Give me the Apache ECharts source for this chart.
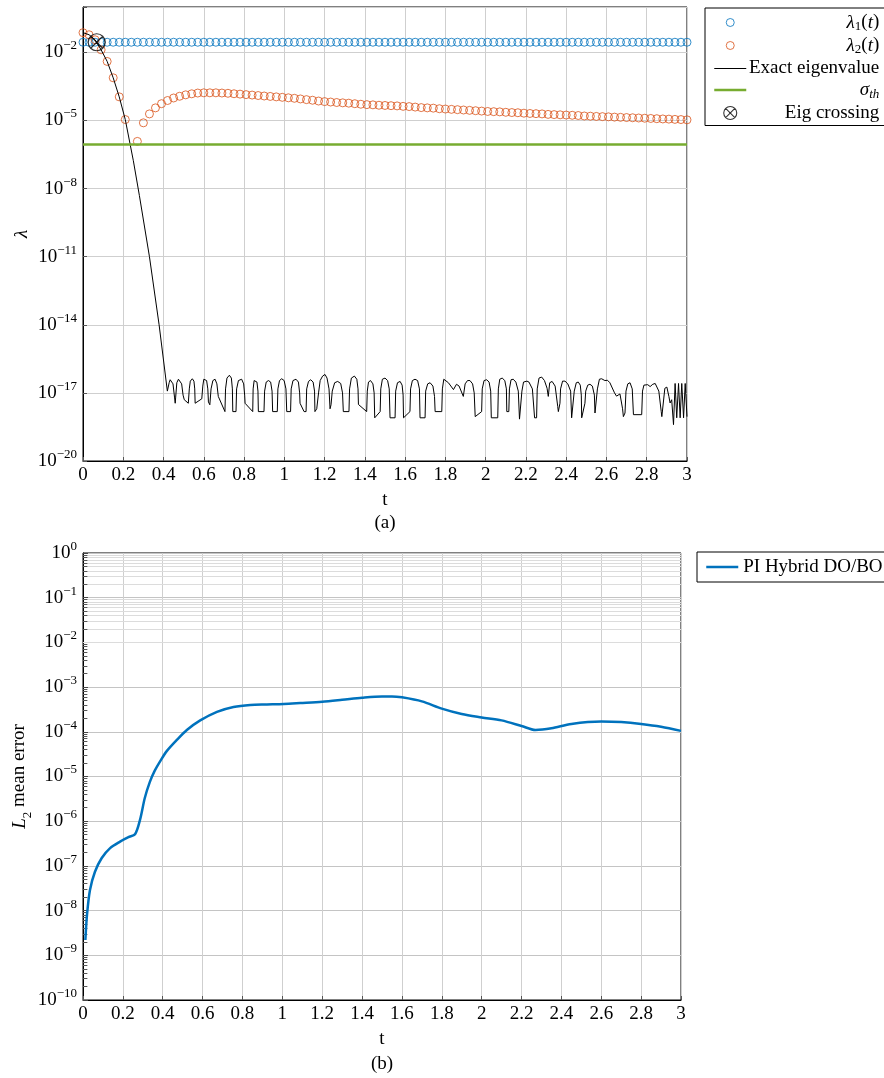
<!DOCTYPE html>
<html>
<head>
<meta charset="utf-8">
<script src="https://cdn.jsdelivr.net/npm/echarts@6/dist/echarts.min.js"></script>
<style>
  html, body { margin: 0; padding: 0; background: #fff; }
  #chart { width: 884px; height: 1078px; }
</style>
</head>
<body>
<div id="chart"></div>
<script>
// ---------- data: panel (a) ----------
const sampleTimes = [
  0, 0.03, 0.06, 0.09, 0.12, 0.15, 0.18, 0.21, 0.24, 0.27,
  0.3, 0.33, 0.36, 0.39, 0.42, 0.45, 0.48, 0.51, 0.54, 0.57,
  0.6, 0.63, 0.66, 0.69, 0.72, 0.75, 0.78, 0.81, 0.84, 0.87,
  0.9, 0.93, 0.96, 0.99, 1.02, 1.05, 1.08, 1.11, 1.14, 1.17,
  1.2, 1.23, 1.26, 1.29, 1.32, 1.35, 1.38, 1.41, 1.44, 1.47,
  1.5, 1.53, 1.56, 1.59, 1.62, 1.65, 1.68, 1.71, 1.74, 1.77,
  1.8, 1.83, 1.86, 1.89, 1.92, 1.95, 1.98, 2.01, 2.04, 2.07,
  2.1, 2.13, 2.16, 2.19, 2.22, 2.25, 2.28, 2.31, 2.34, 2.37,
  2.4, 2.43, 2.46, 2.49, 2.52, 2.55, 2.58, 2.61, 2.64, 2.67,
  2.7, 2.73, 2.76, 2.79, 2.82, 2.85, 2.88, 2.91, 2.94, 2.97,
  3.0
];

const lambda1Values = [
  0.028, 0.028, 0.028, 0.028, 0.028, 0.028, 0.028, 0.028, 0.028, 0.028,
  0.028, 0.028, 0.028, 0.028, 0.028, 0.028, 0.028, 0.028, 0.028, 0.028,
  0.028, 0.028, 0.028, 0.028, 0.028, 0.028, 0.028, 0.028, 0.028, 0.028,
  0.028, 0.028, 0.028, 0.028, 0.028, 0.028, 0.028, 0.028, 0.028, 0.028,
  0.028, 0.028, 0.028, 0.028, 0.028, 0.028, 0.028, 0.028, 0.028, 0.028,
  0.028, 0.028, 0.028, 0.028, 0.028, 0.028, 0.028, 0.028, 0.028, 0.028,
  0.028, 0.028, 0.028, 0.028, 0.028, 0.028, 0.028, 0.028, 0.028, 0.028,
  0.028, 0.028, 0.028, 0.028, 0.028, 0.028, 0.028, 0.028, 0.028, 0.028,
  0.028, 0.028, 0.028, 0.028, 0.028, 0.028, 0.028, 0.028, 0.028, 0.028,
  0.028, 0.028, 0.028, 0.028, 0.028, 0.028, 0.028, 0.028, 0.028, 0.028,
  0.028
];

const lambda2Values = [
  7.4e-2, 6.0e-2, 3.6e-2, 1.3e-2, 4.0e-3, 7.6e-4, 1.1e-4, 1.1e-5, null, 1.2e-6,
  7.9e-6, 1.95e-5, 3.6e-5, 5.5e-5, 7.6e-5, 9.8e-5, 1.17e-4, 1.35e-4, 1.5e-4, 1.62e-4,
  1.66e-4, 1.66e-4, 1.66e-4, 1.62e-4, 1.58e-4, 1.51e-4, 1.45e-4, 1.38e-4, 1.32e-4, 1.26e-4,
  1.2e-4, 1.15e-4, 1.1e-4, 1.05e-4, 1.0e-4, 9.5e-5, 8.9e-5, 8.3e-5, 7.8e-5, 7.2e-5,
  6.8e-5, 6.5e-5, 6.2e-5, 6.0e-5, 5.8e-5, 5.5e-5, 5.2e-5, 5.0e-5, 4.9e-5, 4.7e-5,
  4.6e-5, 4.5e-5, 4.4e-5, 4.2e-5, 4.1e-5, 3.9e-5, 3.7e-5, 3.6e-5, 3.5e-5, 3.3e-5,
  3.2e-5, 3.1e-5, 3.0e-5, 2.9e-5, 2.8e-5, 2.7e-5, 2.6e-5, 2.5e-5, 2.45e-5, 2.4e-5,
  2.3e-5, 2.24e-5, 2.2e-5, 2.1e-5, 2.04e-5, 2.0e-5, 1.95e-5, 1.86e-5, 1.82e-5, 1.78e-5,
  1.74e-5, 1.7e-5, 1.66e-5, 1.58e-5, 1.55e-5, 1.51e-5, 1.48e-5, 1.45e-5, 1.41e-5, 1.38e-5,
  1.35e-5, 1.32e-5, 1.29e-5, 1.26e-5, 1.23e-5, 1.2e-5, 1.17e-5, 1.15e-5, 1.12e-5, 1.1e-5,
  1.07e-5
];

// [t, lambda] samples of the exact eigenvalue
const exactEigenvalue = [
  [0, 7.4e-2], [0.03, 6.0e-2], [0.06, 3.6e-2], [0.09, 1.3e-2], [0.12, 4.0e-3],
  [0.15, 7.6e-4], [0.18, 1.1e-4], [0.21, 1.1e-5], [0.25, 1.7e-7], [0.28, 5e-9],
  [0.33, 1e-11], [0.378, 1e-14], [0.419, 1.2e-17],
  [0.428, 2.8e-17], [0.433, 3.8e-17], [0.440, 3.8e-17], [0.447, 2.5e-17], [0.455, 6e-18],
  [0.458, 3.5e-18], [0.460, 6e-18], [0.466, 2.8e-17], [0.474, 4e-17], [0.482, 4e-17],
  [0.490, 2.5e-17], [0.497, 8e-18], [0.503, 5e-18], [0.523, 3.5e-18], [0.528, 1.5e-17],
  [0.533, 3.3e-17], [0.543, 4.2e-17], [0.551, 3.3e-17], [0.555, 1.5e-17], [0.557, 3.5e-18],
  [0.590, 5.5e-18], [0.595, 2e-17], [0.600, 4e-17], [0.606, 4.5e-17], [0.614, 3.5e-17],
  [0.620, 1.5e-17], [0.623, 4e-18], [0.630, 3e-18], [0.636, 1.5e-17], [0.645, 3.5e-17],
  [0.656, 4e-17], [0.665, 2.5e-17], [0.672, 7e-18], [0.705, 1.5e-18], [0.708, 1.5e-17],
  [0.715, 4.5e-17], [0.727, 6e-17], [0.737, 4.5e-17], [0.742, 1.5e-17], [0.744, 1.5e-18],
  [0.760, 1.5e-18], [0.763, 1.5e-17], [0.772, 3.5e-17], [0.788, 4e-17], [0.798, 2.5e-17],
  [0.803, 8e-18], [0.805, 3.5e-18], [0.843, 1.5e-18], [0.845, 1.5e-17], [0.850, 3.5e-17],
  [0.856, 4e-17], [0.864, 3e-17], [0.869, 1.2e-17], [0.871, 1.5e-18], [0.899, 1.5e-18],
  [0.902, 1.2e-17], [0.910, 3e-17], [0.921, 3.5e-17], [0.932, 3e-17], [0.939, 1.2e-17],
  [0.942, 1.5e-18], [0.965, 1.5e-18], [0.968, 1.5e-17], [0.976, 3.5e-17], [0.987, 4.2e-17],
  [0.999, 3.5e-17], [1.008, 1.5e-17], [1.012, 1.5e-18], [1.031, 1.5e-18], [1.034, 1.5e-17],
  [1.043, 3.5e-17], [1.058, 4e-17], [1.070, 3e-17], [1.076, 1e-17], [1.078, 3.5e-18],
  [1.098, 1.5e-18], [1.108, 1.5e-18], [1.111, 1.5e-17], [1.120, 3.2e-17], [1.131, 3.8e-17],
  [1.143, 3e-17], [1.150, 1.2e-17], [1.152, 1.5e-18], [1.161, 2e-18], [1.170, 1e-17],
  [1.178, 3.5e-17], [1.190, 5.5e-17], [1.202, 6.5e-17], [1.212, 4.5e-17], [1.222, 1.5e-17],
  [1.227, 2e-18], [1.232, 3e-18], [1.238, 1.2e-17], [1.250, 2.8e-17], [1.265, 3.2e-17],
  [1.280, 2.6e-17], [1.289, 1e-17], [1.293, 1.5e-18], [1.321, 1.5e-18], [1.324, 1.5e-17],
  [1.333, 4.5e-17], [1.348, 5.5e-17], [1.360, 4e-17], [1.366, 1.5e-17], [1.368, 3.1e-18],
  [1.409, 1.5e-18], [1.412, 1.2e-17], [1.418, 3e-17], [1.428, 3.5e-17], [1.440, 2.5e-17],
  [1.446, 1e-17], [1.449, 8e-19], [1.476, 1.5e-18], [1.479, 1.5e-17], [1.487, 4e-17],
  [1.500, 4.5e-17], [1.513, 3.5e-17], [1.521, 1.5e-17], [1.525, 8e-19], [1.550, 8e-19],
  [1.553, 1.2e-17], [1.562, 2.8e-17], [1.575, 3.2e-17], [1.585, 2.2e-17], [1.590, 8e-18],
  [1.592, 8e-19], [1.624, 1.5e-18], [1.627, 1.5e-17], [1.636, 3.5e-17], [1.649, 4e-17],
  [1.662, 3.5e-17], [1.671, 1.5e-17], [1.674, 8e-19], [1.699, 8e-19], [1.702, 1.2e-17],
  [1.712, 2.5e-17], [1.724, 2.8e-17], [1.738, 2e-17], [1.746, 7e-18], [1.749, 1.5e-18],
  [1.782, 1.5e-18], [1.785, 1.5e-17], [1.792, 4e-17], [1.800, 4.5e-17], [1.815, 2.8e-17],
  [1.840, 1.4e-17], [1.855, 2.4e-17], [1.868, 2e-17], [1.889, 7e-18], [1.898, 2.5e-17],
  [1.910, 3.5e-17], [1.922, 3.5e-17], [1.935, 2.5e-17], [1.943, 1e-17], [1.948, 9e-19],
  [1.980, 1.5e-18], [1.983, 1.5e-17], [1.992, 3.5e-17], [2.005, 3.8e-17], [2.017, 3e-17],
  [2.025, 1.2e-17], [2.028, 8e-19], [2.060, 8e-19], [2.063, 1.5e-17], [2.070, 4e-17],
  [2.082, 4.5e-17], [2.095, 3.5e-17], [2.103, 1.5e-17], [2.105, 1.5e-18], [2.115, 1.5e-18],
  [2.118, 1.5e-17], [2.126, 3.8e-17], [2.137, 4e-17], [2.150, 3e-17], [2.162, 1.2e-17],
  [2.168, 7e-19], [2.175, 8e-19], [2.180, 1.2e-17], [2.188, 3e-17], [2.195, 3.4e-17],
  [2.205, 3.3e-17], [2.215, 3e-17], [2.232, 1.5e-17], [2.243, 8e-19], [2.253, 8e-19],
  [2.256, 1.5e-17], [2.265, 4.5e-17], [2.278, 5e-17], [2.292, 3.5e-17], [2.305, 1.6e-17],
  [2.311, 7e-18], [2.318, 2.8e-17], [2.330, 3.2e-17], [2.345, 2e-17], [2.358, 2.5e-18],
  [2.361, 1.5e-18], [2.369, 3.5e-18], [2.372, 1.5e-17], [2.382, 3.3e-17], [2.394, 3.3e-17],
  [2.408, 2.5e-17], [2.422, 1.2e-17], [2.427, 8e-19], [2.435, 8e-19], [2.440, 1.2e-17],
  [2.450, 2.8e-17], [2.460, 3e-17], [2.470, 2.2e-17], [2.475, 8e-18], [2.477, 8e-19],
  [2.493, 3.5e-18], [2.497, 1.2e-17], [2.507, 2.2e-17], [2.518, 2.4e-17], [2.530, 2e-17],
  [2.540, 8e-18], [2.543, 1.3e-18], [2.551, 1.5e-18], [2.555, 1.5e-17], [2.565, 4e-17],
  [2.576, 4.2e-17], [2.592, 3.5e-17], [2.605, 3.6e-17], [2.617, 2.8e-17], [2.640, 1e-17],
  [2.650, 7.2e-18], [2.667, 9e-18], [2.680, 2e-18], [2.684, 9e-19], [2.692, 1.3e-18],
  [2.697, 1.2e-17], [2.706, 2.5e-17], [2.717, 2.8e-17], [2.728, 1.5e-17], [2.734, 1.1e-18],
  [2.775, 1.1e-18], [2.779, 1.2e-17], [2.786, 2.2e-17], [2.792, 2.4e-17], [2.805, 2.3e-17],
  [2.817, 1.9e-17], [2.830, 2.4e-17], [2.842, 2.6e-17], [2.860, 1.2e-17], [2.872, 1.5e-18],
  [2.875, 9e-19], [2.883, 9e-19], [2.890, 1.6e-17], [2.900, 1.8e-17], [2.910, 7e-18],
  [2.916, 3.6e-18], [2.924, 5e-18], [2.933, 4e-19], [2.941, 2.6e-17], [2.949, 8e-19],
  [2.958, 2.6e-17], [2.966, 8e-19], [2.974, 2.6e-17], [2.983, 8e-19], [2.991, 2.6e-17],
  [3.0, 9e-19]
];

const sigmaThreshold = 8.7e-7;
const eigCrossing = [0.068, 0.028];

// ---------- data: panel (b) ----------
const errorTimes = [
  0.012, 0.02, 0.035, 0.06, 0.094, 0.136, 0.186, 0.228, 0.261, 0.286,
  0.31, 0.335, 0.36, 0.39, 0.42, 0.471, 0.521, 0.588, 0.672, 0.755,
  0.839, 0.923, 1.007, 1.09, 1.2, 1.3, 1.4, 1.5, 1.55, 1.6,
  1.7, 1.8, 1.9, 2.0, 2.1, 2.2, 2.27, 2.35, 2.45, 2.6,
  2.7, 2.8, 2.9, 3.0
];
const errorValues = [
  2.2e-9, 8e-9, 2.9e-8, 7.4e-8, 1.5e-7, 2.5e-7, 3.5e-7, 4.4e-7, 5.1e-7, 1.07e-6,
  3.3e-6, 7.5e-6, 1.35e-5, 2.3e-5, 3.7e-5, 6.6e-5, 1.1e-4, 1.8e-4, 2.8e-4, 3.6e-4,
  4.0e-4, 4.1e-4, 4.2e-4, 4.4e-4, 4.7e-4, 5.2e-4, 5.8e-4, 6.2e-4, 6.2e-4, 5.9e-4,
  4.8e-4, 3.3e-4, 2.5e-4, 2.1e-4, 1.8e-4, 1.35e-4, 1.1e-4, 1.2e-4, 1.5e-4, 1.7e-4,
  1.65e-4, 1.5e-4, 1.3e-4, 1.05e-4
];

// minor grid of the error axis: 2..9 times each decade
const minorMantissas = [2, 3, 4, 5, 6, 7, 8, 9];
const minorDecades = [-10, -9, -8, -7, -6, -5, -4, -3, -2, -1];

// ---------- styling ----------
const FONT = 'Liberation Serif';
const BLUE = '#0072BD', ORANGE = '#D95319', GREEN = '#77AC30';
const GRID_GRAY = '#cfcfcf';

const pairs = (xs, ys) => xs.map((x, i) => [x, ys[i]]).filter(p => p[1] != null);

function powerLabel(v) {
  const e = Math.round(Math.log10(v));
  return '{b|10}{s|' + (e < 0 ? '\u2212' + (-e) : e) + '}';
}
const powerRich = {
  b: { fontFamily: FONT, fontSize: 19, lineHeight: 26, color: '#000' },
  s: { fontFamily: FONT, fontSize: 13, lineHeight: 13, verticalAlign: 'top', color: '#000' }
};
const tLabel = v => String(Math.round(v * 10) / 10);

function xAxisFor(gridIndex) {
  return {
    type: 'value', gridIndex, min: 0, max: 3, interval: 0.2,
    name: 't', nameLocation: 'middle', nameGap: 30, nameMoveOverlap: false,
    nameTextStyle: { fontFamily: FONT, fontSize: 19, color: '#000' },
    axisLine: { lineStyle: { color: '#000', width: 1 } },
    axisTick: { show: true, inside: true, length: 4, lineStyle: { color: '#555' } },
    axisLabel: { formatter: tLabel, fontFamily: FONT, fontSize: 19, color: '#000', margin: 5 },
    splitLine: { show: true, lineStyle: { color: GRID_GRAY, width: 1 } }
  };
}

const legendNames = {
  'λ1(t)': '{i|λ}{s|1}{r|(}{i|t}{r|)}',
  'λ2(t)': '{i|λ}{s|2}{r|(}{i|t}{r|)}',
  'Exact eigenvalue': '{r|Exact eigenvalue}',
  'σth': '{i|σ}{si|th}',
  'Eig crossing': '{r|Eig crossing}'
};
const rightRich = {
  r: { fontFamily: FONT, fontSize: 19, lineHeight: 22, align: 'right', color: '#000' },
  i: { fontFamily: FONT, fontSize: 19, fontStyle: 'italic', lineHeight: 22, align: 'right', color: '#000' },
  s: { fontFamily: FONT, fontSize: 13, lineHeight: 13, verticalAlign: 'bottom', align: 'right', color: '#000' },
  si: { fontFamily: FONT, fontSize: 13, fontStyle: 'italic', lineHeight: 13, verticalAlign: 'bottom', align: 'right', color: '#000' }
};

const crossSymbol = 'path://M10,0 A10,10 0 1 1 -10,0 A10,10 0 1 1 10,0 Z M-7.07,-7.07 L7.07,7.07 M-7.07,7.07 L7.07,-7.07';
// legend circle: the leading moves widen the icon box so the ring stays small
const legendRing = 'path://M-7,-7 M7,7 M4.3,0 A4.3,4.3 0 1 1 -4.3,0 A4.3,4.3 0 1 1 4.3,0 Z';
const hollow = 'rgba(0,0,0,0)';
const noMarker = { color: hollow, borderColor: hollow, borderWidth: 0 };

const minorLines = [];
minorDecades.forEach(e => minorMantissas.forEach(m => minorLines.push({ yAxis: m * Math.pow(10, e) })));
// short dark minor ticks along the left edge of panel (b)
const minorTickMarks = [];
minorDecades.forEach(e => minorMantissas.forEach(m => {
  const v = m * Math.pow(10, e);
  minorTickMarks.push([{ coord: [0, v] }, { coord: [0.022, v] }]);
}));

const option = {
  animation: false,
  backgroundColor: '#fff',
  grid: [
    { left: 83, top: 7, width: 604, height: 454, show: true, borderColor: '#000', borderWidth: 1, outerBoundsMode: 'none', containLabel: false },
    { left: 83, top: 553, width: 598, height: 447, show: true, borderColor: '#000', borderWidth: 1, outerBoundsMode: 'none', containLabel: false }
  ],
  xAxis: [xAxisFor(0), xAxisFor(1)],
  yAxis: [
    {
      type: 'log', logBase: 10, gridIndex: 0, min: 1e-20, max: 1, interval: 3,
      name: 'λ', nameLocation: 'middle', nameGap: 52, nameMoveOverlap: false,
      nameTextStyle: { fontFamily: FONT, fontSize: 19, fontStyle: 'italic', color: '#000' },
      axisLine: { lineStyle: { color: '#000' } },
      axisTick: { show: true, inside: true, length: 4, lineStyle: { color: '#555' } },
      axisLabel: {
        formatter: v => (v >= 0.5 ? '' : powerLabel(v)),
        rich: powerRich, margin: 6
      },
      splitLine: { show: true, lineStyle: { color: GRID_GRAY, width: 1 } },
      minorTick: { show: false }, minorSplitLine: { show: false }
    },
    {
      type: 'log', logBase: 10, gridIndex: 1, min: 1e-10, max: 1, interval: 1,
      name: '{i|L}{s|2}{r| mean error}', nameLocation: 'middle', nameGap: 49, nameMoveOverlap: false,
      nameTextStyle: {
        rich: {
          i: { fontFamily: FONT, fontSize: 19, fontStyle: 'italic', lineHeight: 24, verticalAlign: 'top', color: '#000' },
          r: { fontFamily: FONT, fontSize: 19, lineHeight: 24, verticalAlign: 'top', color: '#000' },
          s: { fontFamily: FONT, fontSize: 13, lineHeight: 13, verticalAlign: 'bottom', color: '#000' }
        }
      },
      axisLine: { lineStyle: { color: '#000' } },
      axisTick: { show: true, inside: true, length: 5, lineStyle: { color: '#444' } },
      axisLabel: { formatter: powerLabel, rich: powerRich, margin: 6 },
      splitLine: { show: true, lineStyle: { color: '#c4c4c4', width: 1 } }
    }
  ],
  legend: [
    {
      left: 705, top: 8, orient: 'vertical',
      padding: [5, 6, 3, 8], itemGap: 2.5, itemWidth: 32, itemHeight: 13,
      borderColor: '#000', borderWidth: 1, borderRadius: 0, backgroundColor: '#fff',
      formatter: name => legendNames[name],
      textStyle: { width: 128, rich: rightRich },
      data: [
        { name: 'λ1(t)', icon: legendRing, itemStyle: { color: hollow, borderColor: BLUE, borderWidth: 1 } },
        { name: 'λ2(t)', icon: legendRing, itemStyle: { color: hollow, borderColor: ORANGE, borderWidth: 1 } },
        { name: 'Exact eigenvalue', itemStyle: noMarker, lineStyle: { color: '#000', width: 1 } },
        { name: 'σth', itemStyle: noMarker, lineStyle: { color: GREEN, width: 2.5 } },
        { name: 'Eig crossing', itemStyle: { color: hollow, borderColor: '#000', borderWidth: 1.1 } }
      ]
    },
    {
      left: 697, top: 552, orient: 'vertical',
      padding: [4, 6, 4, 8], itemWidth: 32, itemHeight: 10,
      borderColor: '#000', borderWidth: 1, borderRadius: 0, backgroundColor: '#fff',
      textStyle: { fontFamily: FONT, fontSize: 19, lineHeight: 22, color: '#000' },
      data: [{ name: 'PI Hybrid DO/BO', itemStyle: noMarker, lineStyle: { color: BLUE, width: 2.5 } }]
    }
  ],
  graphic: [
    { type: 'text', x: 385, y: 523, style: { text: '(a)', font: '19px "Liberation Serif"', fill: '#000', textAlign: 'center', textVerticalAlign: 'middle' } },
    { type: 'text', x: 382, y: 1064, style: { text: '(b)', font: '19px "Liberation Serif"', fill: '#000', textAlign: 'center', textVerticalAlign: 'middle' } }
  ],
  series: [
    {
      name: 'λ1(t)', type: 'scatter', xAxisIndex: 0, yAxisIndex: 0,
      symbol: 'circle', symbolSize: 8,
      itemStyle: { color: hollow, borderColor: BLUE, borderWidth: 1 },
      data: pairs(sampleTimes, lambda1Values)
    },
    {
      name: 'λ2(t)', type: 'scatter', xAxisIndex: 0, yAxisIndex: 0,
      symbol: 'circle', symbolSize: 8,
      itemStyle: { color: hollow, borderColor: ORANGE, borderWidth: 1 },
      data: pairs(sampleTimes, lambda2Values)
    },
    {
      name: 'Exact eigenvalue', type: 'line', xAxisIndex: 0, yAxisIndex: 0,
      symbol: 'none', showSymbol: false,
      lineStyle: { color: '#000', width: 1 }, itemStyle: { color: '#000' },
      data: exactEigenvalue
    },
    {
      name: 'σth', type: 'line', xAxisIndex: 0, yAxisIndex: 0,
      symbol: 'none', showSymbol: false,
      lineStyle: { color: GREEN, width: 2.5 }, itemStyle: { color: GREEN },
      data: [[0, sigmaThreshold], [3, sigmaThreshold]]
    },
    {
      name: 'Eig crossing', type: 'scatter', xAxisIndex: 0, yAxisIndex: 0,
      symbol: crossSymbol, symbolSize: 17, symbolKeepAspect: true,
      itemStyle: { color: hollow, borderColor: '#000', borderWidth: 1.2 },
      data: [eigCrossing]
    },
    {
      name: 'PI Hybrid DO/BO', type: 'line', xAxisIndex: 1, yAxisIndex: 1,
      symbol: 'none', showSymbol: false, smooth: 0.3, z: 3,
      lineStyle: { color: BLUE, width: 2.5 }, itemStyle: { color: BLUE },
      data: pairs(errorTimes, errorValues),
      markLine: {
        silent: true, symbol: 'none', z: 1, animation: false,
        label: { show: false },
        lineStyle: { color: '#dcdcdc', width: 1, type: 'solid' },
        emphasis: { disabled: true },
        data: minorLines.concat(minorTickMarks.map(seg => [
          Object.assign({ lineStyle: { color: '#555', width: 1, type: 'solid' } }, seg[0]), seg[1]
        ]))
      }
    }
  ]
};

const chart = echarts.init(document.getElementById('chart'), null, { renderer: 'canvas' });
chart.setOption(option);
</script>
</body>
</html>
